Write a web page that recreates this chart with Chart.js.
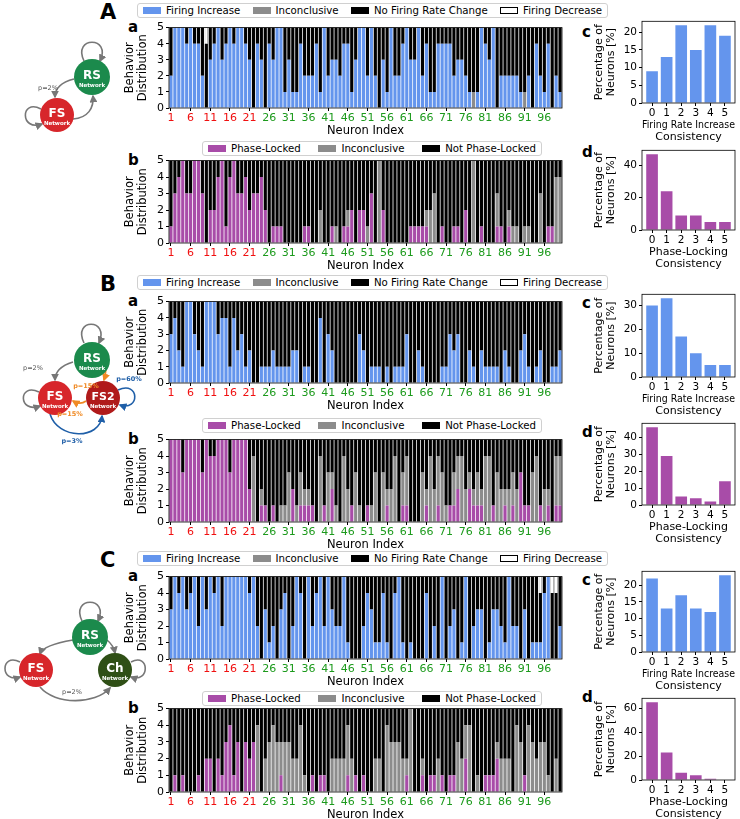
<!DOCTYPE html>
<html><head><meta charset="utf-8">
<script src="https://cdn.jsdelivr.net/npm/chart.js@4.4.1/dist/chart.umd.min.js"></script>
<style>
html,body{margin:0;padding:0;background:#fff}
body{width:740px;height:819px;position:relative;overflow:hidden;font-family:'DejaVu Sans',sans-serif;color:#000}
canvas{position:absolute}
.lg{position:absolute;height:15px;border:1px solid #d0d0d0;border-radius:3px;background:#fff;display:flex;align-items:center;justify-content:space-between;padding:0 5px;box-sizing:border-box;font-size:10.2px;white-space:nowrap;z-index:3}
.lg span{display:flex;align-items:center}
.lg i{display:inline-block;width:18px;height:7px;margin-right:5px;box-sizing:border-box}
.pl{position:absolute;font-weight:bold;font-size:21px;line-height:1}
.sl{position:absolute;font-weight:bold;font-size:15px;line-height:1}
svg{position:absolute;left:0;top:0;z-index:4}
</style></head><body>

<div class="pl" style="left:100px;top:2px">A</div>
<div class="pl" style="left:100px;top:274px">B</div>
<div class="pl" style="left:100px;top:550px">C</div>

<div class="sl" style="left:128px;top:20px">a</div>
<div class="sl" style="left:128px;top:153px">b</div>
<div class="sl" style="left:128px;top:294px">a</div>
<div class="sl" style="left:128px;top:432px">b</div>
<div class="sl" style="left:128px;top:569px">a</div>
<div class="sl" style="left:128px;top:701px">b</div>
<div class="sl" style="left:582px;top:25px">c</div>
<div class="sl" style="left:582px;top:145px">d</div>
<div class="sl" style="left:582px;top:296px">c</div>
<div class="sl" style="left:582px;top:425px">d</div>
<div class="sl" style="left:582px;top:573px">c</div>
<div class="sl" style="left:582px;top:690px">d</div>

<div class="lg" style="left:137px;top:3px;width:471px"><span><i style="background:#6495ed"></i>Firing Increase</span><span><i style="background:#8c8c8c"></i>Inconclusive</span><span><i style="background:#000"></i>No Firing Rate Change</span><span><i style="background:#fff;border:1px solid #000"></i>Firing Decrease</span></div>
<div class="lg" style="left:202px;top:141px;width:340px"><span><i style="background:#a84ca8"></i>Phase-Locked</span><span><i style="background:#8c8c8c"></i>Inconclusive</span><span><i style="background:#000"></i>Not Phase-Locked</span></div>
<div class="lg" style="left:137px;top:275px;width:471px"><span><i style="background:#6495ed"></i>Firing Increase</span><span><i style="background:#8c8c8c"></i>Inconclusive</span><span><i style="background:#000"></i>No Firing Rate Change</span><span><i style="background:#fff;border:1px solid #000"></i>Firing Decrease</span></div>
<div class="lg" style="left:202px;top:418px;width:340px"><span><i style="background:#a84ca8"></i>Phase-Locked</span><span><i style="background:#8c8c8c"></i>Inconclusive</span><span><i style="background:#000"></i>Not Phase-Locked</span></div>
<div class="lg" style="left:137px;top:551px;width:471px"><span><i style="background:#6495ed"></i>Firing Increase</span><span><i style="background:#8c8c8c"></i>Inconclusive</span><span><i style="background:#000"></i>No Firing Rate Change</span><span><i style="background:#fff;border:1px solid #000"></i>Firing Decrease</span></div>
<div class="lg" style="left:202px;top:691px;width:340px"><span><i style="background:#a84ca8"></i>Phase-Locked</span><span><i style="background:#8c8c8c"></i>Inconclusive</span><span><i style="background:#000"></i>Not Phase-Locked</span></div>

<svg width="150" height="819" viewBox="0 0 150 819" font-family="DejaVu Sans, sans-serif">
<defs>
<marker id="ag" markerWidth="5" markerHeight="5" refX="4" refY="2.5" orient="auto"><path d="M0,0 L5,2.5 L0,5 z" fill="#777"/></marker>
<marker id="ao" markerWidth="5" markerHeight="5" refX="4" refY="2.5" orient="auto"><path d="M0,0 L5,2.5 L0,5 z" fill="#f08a24"/></marker>
<marker id="ab" markerWidth="5" markerHeight="5" refX="4" refY="2.5" orient="auto"><path d="M0,0 L5,2.5 L0,5 z" fill="#1f5fa8"/></marker>
</defs>
<!-- Panel A -->
<g fill="none" stroke="#777" stroke-width="1.6">
<path d="M84,61 C72,36 112,36 100,61" marker-end="url(#ag)"/>
<path d="M41,109 C20,98 20,132 42,124" marker-end="url(#ag)"/>
<path d="M74,79 C62,82 55,88 55,97" marker-end="url(#ag)"/>
<path d="M73,119 C88,118 94,108 93,96" marker-end="url(#ag)"/>
</g>
<circle cx="92" cy="77" r="18" fill="#1b8a4c"/>
<circle cx="57" cy="115" r="17" fill="#d7262b"/>
<text x="92" y="79" fill="#fff" font-size="12" font-weight="bold" text-anchor="middle">RS</text>
<text x="92" y="87" fill="#fff" font-size="5.5" font-weight="bold" text-anchor="middle">Network</text>
<text x="57" y="117" fill="#fff" font-size="12" font-weight="bold" text-anchor="middle">FS</text>
<text x="57" y="125" fill="#fff" font-size="5.5" font-weight="bold" text-anchor="middle">Network</text>
<text x="48" y="90" fill="#555" font-size="6.5" text-anchor="middle">p=2%</text>
<!-- Panel B -->
<g fill="none" stroke-width="1.6">
<path d="M84,343 C72,318 110,318 99,343" stroke="#777" marker-end="url(#ag)"/>
<path d="M39,392 C18,382 18,414 40,406" stroke="#777" marker-end="url(#ag)"/>
<path d="M73,362 C60,366 55,372 55,380" stroke="#777" marker-end="url(#ag)"/>
<path d="M106,365 C106,372 105,377 104,380" stroke="#f08a24" marker-end="url(#ao)"/>
<path d="M86,401 C82,404 78,404 73,401" stroke="#f08a24" marker-end="url(#ao)"/>
<path d="M118,390 C140,380 140,412 120,405" stroke="#1f5fa8" marker-end="url(#ab)"/>
<path d="M50,414 C58,440 100,440 102,416" stroke="#1f5fa8" marker-end="url(#ab)"/>
</g>
<circle cx="92" cy="360" r="18" fill="#1b8a4c"/>
<circle cx="55" cy="398" r="17" fill="#d7262b"/>
<circle cx="103" cy="398" r="17" fill="#b01a1a"/>
<text x="92" y="362" fill="#fff" font-size="12" font-weight="bold" text-anchor="middle">RS</text>
<text x="92" y="370" fill="#fff" font-size="5.5" font-weight="bold" text-anchor="middle">Network</text>
<text x="55" y="400" fill="#fff" font-size="12" font-weight="bold" text-anchor="middle">FS</text>
<text x="55" y="408" fill="#fff" font-size="5.5" font-weight="bold" text-anchor="middle">Network</text>
<text x="103" y="400" fill="#fff" font-size="11" font-weight="bold" text-anchor="middle">FS2</text>
<text x="103" y="408" fill="#fff" font-size="5.5" font-weight="bold" text-anchor="middle">Network</text>
<text x="33" y="370" fill="#555" font-size="6.5" text-anchor="middle">p=2%</text>
<text x="86" y="388" fill="#f08a24" font-size="6.5" font-weight="bold" text-anchor="middle">p=15%</text>
<text x="70" y="416" fill="#f08a24" font-size="6.5" font-weight="bold" text-anchor="middle">p=15%</text>
<text x="129" y="381" fill="#1f5fa8" font-size="6.5" font-weight="bold" text-anchor="middle">p=60%</text>
<text x="72" y="443" fill="#1f5fa8" font-size="6.5" font-weight="bold" text-anchor="middle">p=3%</text>
<!-- Panel C -->
<g fill="none" stroke="#777" stroke-width="1.6">
<path d="M82,621 C70,596 110,596 98,621" marker-end="url(#ag)"/>
<path d="M20,662 C0,652 0,684 20,677" marker-end="url(#ag)"/>
<path d="M131,662 C150,652 150,684 131,677" marker-end="url(#ag)"/>
<path d="M73,640 C55,643 42,648 40,654" marker-end="url(#ag)"/>
<path d="M107,640 C112,644 114,648 115,653" marker-end="url(#ag)"/>
<path d="M40,687 C55,705 95,705 110,688" marker-end="url(#ag)"/>
</g>
<circle cx="90" cy="637" r="18" fill="#1b8a4c"/>
<circle cx="36" cy="670" r="17" fill="#d7262b"/>
<circle cx="115" cy="670" r="17" fill="#2f4f16"/>
<text x="90" y="639" fill="#fff" font-size="12" font-weight="bold" text-anchor="middle">RS</text>
<text x="90" y="647" fill="#fff" font-size="5.5" font-weight="bold" text-anchor="middle">Network</text>
<text x="36" y="672" fill="#fff" font-size="12" font-weight="bold" text-anchor="middle">FS</text>
<text x="36" y="680" fill="#fff" font-size="5.5" font-weight="bold" text-anchor="middle">Network</text>
<text x="115" y="672" fill="#fff" font-size="12" font-weight="bold" text-anchor="middle">Ch</text>
<text x="115" y="680" fill="#fff" font-size="5.5" font-weight="bold" text-anchor="middle">Network</text>
<text x="72" y="694" fill="#555" font-size="6.5" text-anchor="middle">p=2%</text>
</svg>

<script>
// ---------------- DATA ----------------
const neuronIndex = Array.from({length: 100}, (_, i) => String(i + 1));
const consistencyLevels = [0, 1, 2, 3, 4, 5];

// Panel A (RS-FS network)
const A_firingIncrease = [2,5,5,5,4,5,4,4,2,0, 3,4,5,3,4,5,4,5,5,4, 3,0,4,3,0,4,3,5,5,1, 3,1,1,4,2,2,2,4,1,5, 2,3,3,2,4,4,1,3,5,5, 2,5,2,0,3,1,5,2,2,4, 5,3,3,5,2,4,1,1,4,4, 4,4,2,3,3,2,1,0,1,5, 4,3,5,0,2,2,2,2,2,1, 0,2,0,4,2,1,4,0,2,1];
const A_firingInconclusive = [0,0,0,0,0,0,0,0,0,0, 0,0,0,0,0,0,0,0,0,0, 0,0,0,0,0,0,0,0,0,0, 0,0,0,0,0,0,0,0,0,0, 0,0,0,0,0,0,0,0,0,0, 0,0,0,0,0,0,0,0,0,0, 0,0,0,0,0,0,0,0,0,0, 0,0,0,0,0,0,0,1,0,0, 0,0,0,0,0,0,0,0,0,0, 1,0,0,0,0,0,0,0,0,0];
const A_noFiringChange = [3,0,0,0,1,0,1,1,3,4, 2,1,0,2,1,0,1,0,0,1, 2,5,1,2,5,1,2,0,0,4, 2,4,4,1,3,3,3,1,4,0, 3,2,2,3,1,1,4,2,0,0, 3,0,3,5,2,4,0,3,3,1, 0,2,2,0,3,1,4,4,1,1, 1,1,3,2,2,3,4,4,4,0, 1,2,0,5,3,3,3,3,3,4, 4,3,5,1,3,4,1,5,3,4];
const A_firingDecrease = [0,0,0,0,0,0,0,0,0,1, 0,0,0,0,0,0,0,0,0,0, 0,0,0,0,0,0,0,0,0,0, 0,0,0,0,0,0,0,0,0,0, 0,0,0,0,0,0,0,0,0,0, 0,0,0,0,0,0,0,0,0,0, 0,0,0,0,0,0,0,0,0,0, 0,0,0,0,0,0,0,0,0,0, 0,0,0,0,0,0,0,0,0,0, 0,0,0,0,0,0,0,0,0,0];
const A_phaseLocked = [1,3,4,5,3,3,5,5,3,0, 2,2,4,5,1,4,5,3,3,4, 2,3,3,4,2,0,1,1,1,0, 0,0,0,0,1,1,0,0,0,0, 0,1,0,0,1,1,2,0,2,2, 0,3,0,0,2,0,0,0,0,0, 0,1,1,1,1,1,0,0,0,1, 0,0,1,1,0,2,0,0,0,1, 0,0,0,1,1,0,1,0,0,0, 0,0,0,0,0,0,1,1,0,0];
const A_phaseInconclusive = [0,0,0,0,0,0,0,0,0,0, 0,0,0,0,0,0,0,0,0,0, 0,0,0,0,0,0,0,0,0,0, 0,0,0,0,0,0,0,0,2,0, 0,0,1,0,0,1,0,0,0,0, 1,0,0,5,0,0,0,0,0,0, 0,0,0,0,0,1,2,3,0,0, 0,0,0,0,0,0,0,5,0,0, 0,0,0,2,0,0,1,1,1,0, 1,1,0,0,3,0,0,0,4,4];
const A_notPhaseLocked = [4,2,1,0,2,2,0,0,2,5, 3,3,1,0,4,1,0,2,2,1, 3,2,2,1,3,5,4,4,4,5, 5,5,5,5,4,4,5,5,3,5, 5,4,4,5,4,3,3,5,3,3, 4,2,5,0,3,5,5,5,5,5, 5,4,4,4,4,3,3,2,5,4, 5,5,4,4,5,3,5,0,5,4, 5,5,5,2,4,5,3,4,4,5, 4,4,5,5,2,5,4,4,1,1];
const A_firingConsistencyPct = [9,13,22,15,22,19];
const A_phaseConsistencyPct = [47,24,9,9,5,5];

// Panel B (RS-FS-FS2 network)
const B_firingIncrease = [3,4,2,1,5,5,3,2,1,5, 5,5,3,4,4,1,4,2,3,1, 2,0,0,1,1,1,2,1,1,1, 1,2,2,0,1,1,0,0,4,0, 3,2,0,0,0,0,0,0,3,2, 0,1,1,1,0,1,0,1,1,1, 3,0,0,2,1,0,0,0,0,1, 1,3,2,3,0,0,2,1,0,2, 1,1,1,1,0,2,1,0,0,2, 3,1,0,1,2,0,0,1,1,2];
const B_firingInconclusive = [0,0,0,0,0,0,0,0,0,0, 0,0,0,0,0,0,0,0,0,0, 0,0,0,0,0,0,0,0,0,0, 0,0,0,0,0,0,0,0,0,0, 0,0,0,0,0,0,0,0,0,0, 0,0,0,0,0,0,0,0,0,0, 0,0,0,0,0,0,0,0,0,0, 0,0,0,0,0,0,0,0,0,0, 0,0,0,0,0,0,0,0,0,0, 0,0,0,0,0,0,0,0,0,0];
const B_noFiringChange = [2,1,3,4,0,0,2,3,4,0, 0,0,2,1,1,4,1,3,2,4, 3,5,5,4,4,4,3,4,4,4, 4,3,3,5,4,4,5,5,1,5, 2,3,5,5,5,5,5,5,2,3, 5,4,4,4,5,4,5,4,4,4, 2,5,5,3,4,5,5,5,5,4, 4,2,3,2,5,5,3,4,5,3, 4,4,4,4,5,3,4,5,5,3, 2,4,5,4,3,5,5,4,4,3];
const B_firingDecrease = [0,0,0,0,0,0,0,0,0,0, 0,0,0,0,0,0,0,0,0,0, 0,0,0,0,0,0,0,0,0,0, 0,0,0,0,0,0,0,0,0,0, 0,0,0,0,0,0,0,0,0,0, 0,0,0,0,0,0,0,0,0,0, 0,0,0,0,0,0,0,0,0,0, 0,0,0,0,0,0,0,0,0,0, 0,0,0,0,0,0,0,0,0,0, 0,0,0,0,0,0,0,0,0,0];
const B_phaseLocked = [5,5,5,3,5,5,5,5,3,5, 4,4,5,5,5,3,5,5,5,5, 2,0,0,1,1,0,1,0,0,0, 0,2,0,1,1,1,1,0,0,1, 0,2,0,0,0,0,1,0,0,0, 1,0,0,0,0,1,0,0,0,1, 1,0,0,0,0,1,0,0,1,0, 0,1,1,2,0,0,2,1,1,1, 0,0,1,0,0,1,0,1,0,3, 1,1,0,0,1,0,1,0,1,1];
const B_phaseInconclusive = [0,0,0,0,0,0,0,0,0,0, 0,0,0,0,0,0,0,0,0,0, 0,4,0,1,0,0,0,0,1,1, 3,0,1,2,1,1,0,0,4,0, 3,1,1,0,4,2,0,3,1,0, 0,1,3,0,3,1,2,4,0,2, 3,0,0,0,3,1,4,2,3,3, 1,0,2,2,4,2,1,1,2,1, 4,4,0,3,2,1,2,2,2,0, 0,0,3,4,0,2,1,0,3,3];
const B_notPhaseLocked = [0,0,0,2,0,0,0,0,2,0, 1,1,0,0,0,2,0,0,0,0, 3,1,5,3,4,5,4,5,4,4, 2,3,4,2,3,3,4,5,1,4, 2,2,4,5,1,3,4,2,4,5, 4,4,2,5,2,3,3,1,5,2, 1,5,5,5,2,3,1,3,1,2, 4,4,2,1,1,3,2,3,2,3, 1,1,4,2,3,3,3,2,3,2, 4,4,2,1,4,3,3,5,1,1];
const B_firingConsistencyPct = [30,33,17,10,5,5];
const B_phaseConsistencyPct = [46,29,5,4,2,14];

// Panel C (RS-FS-Ch network)
const C_firingIncrease = [3,5,4,5,3,4,5,2,5,3, 5,4,5,2,5,5,5,5,5,5, 4,5,2,0,3,1,2,0,3,4, 0,2,5,4,0,5,2,4,5,2, 5,3,2,2,5,1,0,0,0,2, 4,3,1,1,4,1,0,4,5,1, 0,1,0,0,0,4,0,2,0,5, 0,2,3,0,1,5,0,2,3,3, 0,1,3,3,2,1,5,2,2,0, 3,0,1,1,1,4,5,0,0,2];
const C_firingInconclusive = [0,0,0,0,0,0,0,0,0,0, 0,0,0,0,0,0,0,0,0,0, 0,0,0,0,0,0,0,0,0,0, 0,0,0,0,0,0,0,0,0,0, 0,0,0,0,0,0,0,0,0,0, 0,0,0,0,0,0,0,0,0,0, 0,0,0,0,0,0,0,0,0,0, 0,0,0,0,0,0,0,0,0,0, 0,0,0,0,0,0,0,0,0,0, 0,0,0,0,0,0,0,0,0,0];
const C_noFiringChange = [2,0,1,0,2,1,0,3,0,2, 0,1,0,3,0,0,0,0,0,0, 1,0,3,5,2,4,3,5,2,1, 5,3,0,1,5,0,3,1,0,3, 0,2,3,3,0,4,5,5,5,3, 1,2,4,4,1,4,5,1,0,4, 5,4,5,5,5,1,5,3,5,0, 5,3,2,5,4,0,5,3,2,2, 5,4,2,2,3,4,0,3,3,5, 2,5,4,4,3,1,0,4,4,3];
const C_firingDecrease = [0,0,0,0,0,0,0,0,0,0, 0,0,0,0,0,0,0,0,0,0, 0,0,0,0,0,0,0,0,0,0, 0,0,0,0,0,0,0,0,0,0, 0,0,0,0,0,0,0,0,0,0, 0,0,0,0,0,0,0,0,0,0, 0,0,0,0,0,0,0,0,0,0, 0,0,0,0,0,0,0,0,0,0, 0,0,0,0,0,0,0,0,0,0, 0,0,0,0,1,0,0,1,1,0];
const C_phaseLocked = [0,1,0,1,0,0,0,1,0,2, 2,0,2,1,3,4,1,3,0,3, 2,3,0,0,0,0,0,0,1,0, 0,0,0,0,0,0,1,0,1,1, 0,0,0,0,0,1,0,1,0,1, 0,0,0,0,0,0,0,0,0,0, 1,0,0,0,1,0,1,1,0,1, 0,1,1,0,0,2,0,0,0,0, 1,1,1,2,0,0,0,0,0,0, 1,0,0,0,0,0,0,0,0,0];
const C_phaseInconclusive = [0,0,0,0,0,0,0,0,0,0, 0,0,0,0,0,0,0,0,0,0, 0,0,4,0,2,3,4,3,2,3, 3,2,2,4,1,0,0,0,0,0, 0,2,2,2,2,3,2,0,0,0, 0,0,2,2,0,4,3,3,3,2, 1,5,0,0,1,0,0,0,2,0, 0,0,0,3,2,2,4,0,1,0, 0,0,0,1,2,2,2,0,4,3, 0,4,3,2,3,3,1,0,2,0];
const C_notPhaseLocked = [5,4,5,4,5,5,5,4,5,3, 3,5,3,4,2,1,4,2,5,2, 3,2,1,5,3,2,1,2,2,2, 2,3,3,1,4,5,4,5,4,4, 5,3,3,3,3,1,3,4,5,4, 5,5,3,3,5,1,2,2,2,3, 3,0,5,5,3,5,4,4,3,4, 5,4,4,2,3,1,1,5,4,5, 4,4,4,2,3,3,3,5,1,2, 4,1,2,3,2,2,4,5,3,5];
const C_firingConsistencyPct = [22,13,17,13,12,23];
const C_phaseConsistencyPct = [65,23,6,4,1,0.5];

// ---------------- STYLE ----------------
const COL = {inc:'#6495ed', inconc:'#8c8c8c', none:'#000000', dec:'#ffffff', lock:'#a84ca8'};
Chart.defaults.font.family = "'DejaVu Sans', sans-serif";
Chart.defaults.color = '#000';

const framePlugin = {
  id: 'frame',
  afterDatasetsDraw(chart) {
    const a = chart.chartArea, c = chart.ctx;
    c.save(); c.strokeStyle = '#000'; c.lineWidth = 0.8;
    c.strokeRect(a.left, a.top, a.right - a.left, a.bottom - a.top);
    c.restore();
  }
};

function addCanvas(left, top, w, h) {
  const cv = document.createElement('canvas');
  cv.width = w; cv.height = h;
  cv.style.left = left + 'px'; cv.style.top = top + 'px';
  cv.style.width = w + 'px'; cv.style.height = h + 'px';
  document.body.appendChild(cv);
  return cv;
}

function stackChart(plotTop, plotBottom, series) {
  const left = 124, right = 566, padTop = 8, xH = 30, yW = 45;
  const w = right - left, h = padTop + (plotBottom - plotTop) + xH;
  const cv = addCanvas(left, plotTop - padTop, w, h);
  new Chart(cv, {
    type: 'bar',
    data: {
      labels: neuronIndex,
      datasets: series.map(s => ({
        label: s.label, data: s.data, backgroundColor: s.color,
        borderColor: s.border || s.color, borderWidth: s.bw || 0,
        barPercentage: 0.8, categoryPercentage: 1, stack: 'st'
      }))
    },
    options: {
      responsive: false, animation: false, devicePixelRatio: 1,
      layout: {padding: {top: padTop, right: 4, left: 0, bottom: 0}},
      plugins: {legend: {display: false}, tooltip: {enabled: false}},
      scales: {
        x: {
          stacked: true, offset: true,
          border: {display: false},
          grid: {display: true, drawOnChartArea: false, offset: false, tickLength: 3,
                 tickColor: c => (c.index % 5 === 0 ? '#000' : 'rgba(0,0,0,0)')},
          ticks: {autoSkip: false, maxRotation: 0, minRotation: 0, padding: 1,
                  font: {size: 11},
                  color: c => (c.index <= 20 ? '#f01010' : '#1c9a1c'),
                  callback: function (v, i) { return i % 5 === 0 ? neuronIndex[i] : ''; }},
          title: {display: true, text: 'Neuron Index', font: {size: 11.5}, padding: {top: 0, bottom: 0}},
          afterFit: s => { s.height = xH; }
        },
        y: {
          stacked: true, min: 0, max: 5,
          border: {display: false},
          grid: {display: true, drawOnChartArea: false, tickLength: 3, tickColor: '#000'},
          ticks: {stepSize: 1, autoSkip: false, font: {size: 11}, padding: 2},
          title: {display: true, text: ['Behavior', 'Distribution'], font: {size: 11.5, lineHeight: 1.1}, padding: {top: 0, bottom: 2}},
          afterFit: s => { s.width = yW; }
        }
      }
    },
    plugins: [framePlugin]
  });
}

function histChart(plotTop, plotBottom, values, color, yMax, yTicks, xTitle) {
  const left = 593, right = 740, padTop = 8, xH = 40, yW = 49;
  const w = right - left, h = padTop + (plotBottom - plotTop) + xH;
  const cv = addCanvas(left, plotTop - padTop, w, h);
  new Chart(cv, {
    type: 'bar',
    data: {
      datasets: [{
        data: consistencyLevels.map((lv, i) => ({x: lv, y: values[i]})),
        backgroundColor: color, barPercentage: 0.8, categoryPercentage: 1
      }]
    },
    options: {
      responsive: false, animation: false, devicePixelRatio: 1,
      layout: {padding: {top: padTop, right: 5, left: 0, bottom: 0}},
      plugins: {legend: {display: false}, tooltip: {enabled: false}},
      scales: {
        x: {
          type: 'linear', min: -0.69, max: 5.69, offset: false,
          border: {display: false},
          grid: {display: true, drawOnChartArea: false, offset: false, tickLength: 3, tickColor: '#000'},
          afterBuildTicks: s => { s.ticks = consistencyLevels.map(v => ({value: v})); },
          ticks: {font: {size: 10.5}, padding: 1, maxRotation: 0, autoSkip: false},
          title: {display: true, text: xTitle, font: {size: 11, lineHeight: 1.1}, padding: {top: 1, bottom: 0}},
          afterFit: s => { s.height = xH; }
        },
        y: {
          min: 0, max: yMax,
          border: {display: false},
          grid: {display: true, drawOnChartArea: false, tickLength: 3, tickColor: '#000'},
          afterBuildTicks: s => { s.ticks = yTicks.map(v => ({value: v})); },
          ticks: {font: {size: 10.5}, padding: 2, autoSkip: false},
          title: {display: true, text: ['Percentage of', 'Neurons [%]'], font: {size: 11, lineHeight: 1.1}, padding: {top: 0, bottom: 1}},
          afterFit: s => { s.width = yW; }
        }
      }
    },
    plugins: [framePlugin]
  });
}

function firingSeries(inc, inconc, none, dec) {
  return [
    {label: 'Firing Increase', data: inc, color: COL.inc},
    {label: 'Inconclusive', data: inconc, color: COL.inconc},
    {label: 'No Firing Rate Change', data: none, color: COL.none},
    {label: 'Firing Decrease', data: dec, color: COL.dec, border: '#000', bw: 0.5}
  ];
}
function phaseSeries(lock, inconc, notLock) {
  return [
    {label: 'Phase-Locked', data: lock, color: COL.lock},
    {label: 'Inconclusive', data: inconc, color: COL.inconc},
    {label: 'Not Phase-Locked', data: notLock, color: COL.none}
  ];
}

stackChart(27, 108, firingSeries(A_firingIncrease, A_firingInconclusive, A_noFiringChange, A_firingDecrease));
stackChart(160, 243, phaseSeries(A_phaseLocked, A_phaseInconclusive, A_notPhaseLocked));
stackChart(301, 383, firingSeries(B_firingIncrease, B_firingInconclusive, B_noFiringChange, B_firingDecrease));
stackChart(439, 522, phaseSeries(B_phaseLocked, B_phaseInconclusive, B_notPhaseLocked));
stackChart(576, 659, firingSeries(C_firingIncrease, C_firingInconclusive, C_noFiringChange, C_firingDecrease));
stackChart(708, 792, phaseSeries(C_phaseLocked, C_phaseInconclusive, C_notPhaseLocked));

const FIRE_T = ['Firing Rate Increase', 'Consistency'];
const PHASE_T = ['Phase-Locking', 'Consistency'];
histChart(21, 103, A_firingConsistencyPct, COL.inc, 23.1, [0,5,10,15,20], FIRE_T);
histChart(150, 230, A_phaseConsistencyPct, COL.lock, 49.4, [0,20,40], PHASE_T);
histChart(294, 377, B_firingConsistencyPct, COL.inc, 34.65, [0,10,20,30], FIRE_T);
histChart(423, 505, B_phaseConsistencyPct, COL.lock, 48.3, [0,10,20,30,40], PHASE_T);
histChart(571, 652, C_firingConsistencyPct, COL.inc, 24.15, [0,5,10,15,20], FIRE_T);
histChart(698, 780, C_phaseConsistencyPct, COL.lock, 68.25, [0,20,40,60], PHASE_T);
</script>
</body></html>
